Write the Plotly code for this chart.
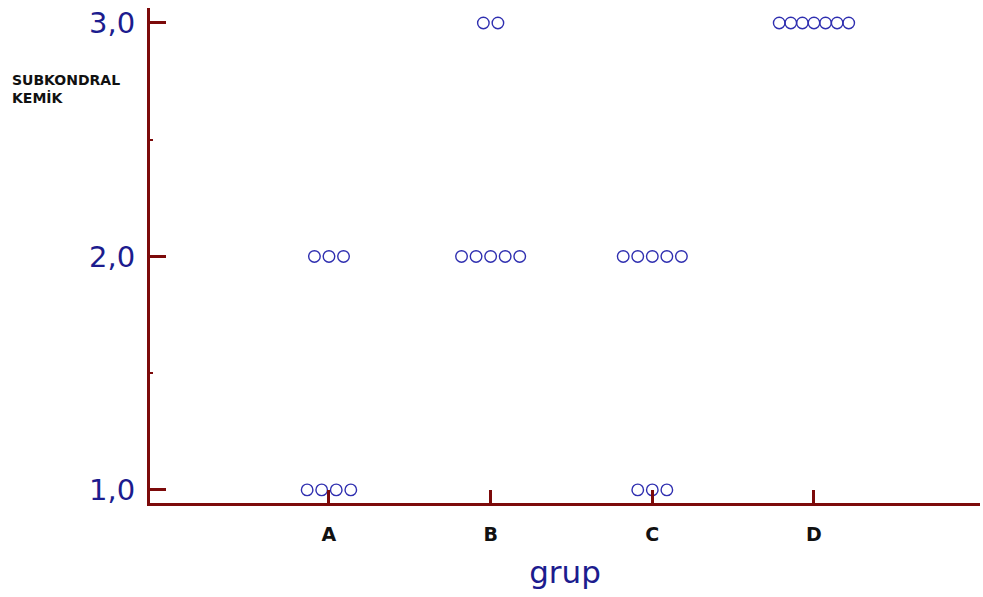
import plotly.graph_objects as go

# Scores per group (SUBKONDRAL KEMİK)
groups = ["A", "B", "C", "D"]
scores_A = [1, 1, 1, 1, 2, 2, 2]
scores_B = [2, 2, 2, 2, 2, 3, 3]
scores_C = [1, 1, 1, 2, 2, 2, 2, 2]
scores_D = [3, 3, 3, 3, 3, 3, 3]
y_ticks = [1.0, 2.0, 3.0]
y_tick_labels = ["1,0", "2,0", "3,0"]

axis_red = "#7c0a0a"
dot_blue = "#2f2fb0"
label_blue = "#1c1c8e"

xs, ys = [], []
for gi, vals in enumerate([scores_A, scores_B, scores_C, scores_D], start=1):
    for level in sorted(set(vals)):
        n = vals.count(level)
        step = min(0.09, 0.43 / (n - 1)) if n > 1 else 0
        for k in range(n):
            xs.append(gi + (k - (n - 1) / 2) * step)
            ys.append(level)

fig = go.Figure(go.Scatter(
    x=xs, y=ys, mode="markers",
    marker=dict(symbol="circle-open", size=11.5, color=dot_blue,
                line=dict(width=1.4, color=dot_blue)),
    cliponaxis=False, hoverinfo="skip",
))

fig.update_layout(
    width=983, height=597,
    margin=dict(l=150, r=3, t=8, b=94),
    paper_bgcolor="white", plot_bgcolor="white",
    showlegend=False,
    font=dict(family="DejaVu Sans"),
    annotations=[dict(
        text="<b>SUBKONDRAL<br>KEMİK</b>", xref="paper", yref="paper",
        x=-140 / 830, y=1 - 62 / 495, xanchor="left", yanchor="top",
        align="left", showarrow=False,
        font=dict(family="DejaVu Sans", size=14, color="#111111"),
    )],
)

fig.update_xaxes(
    range=[-0.107, 5.027], tickmode="array",
    tickvals=[1, 2, 3, 4], ticktext=groups,
    ticks="inside", ticklen=13, tickwidth=3, tickcolor=axis_red,
    showline=True, linecolor=axis_red, linewidth=3,
    showgrid=False, zeroline=False,
    tickfont=dict(family="DejaVu Sans", size=19, color="#111111", weight="bold"),
    ticklabelstandoff=12,
    title=dict(text="grup", font=dict(family="DejaVu Sans", size=31, color=label_blue),
               standoff=18),
)

fig.update_yaxes(
    range=[0.944, 3.064], tickmode="array",
    tickvals=y_ticks, ticktext=y_tick_labels,
    ticks="inside", ticklen=16, tickwidth=2.5, tickcolor=axis_red,
    minor=dict(tickvals=[1.5, 2.5], ticks="inside", ticklen=3, tickwidth=2, tickcolor=axis_red),
    showline=True, linecolor=axis_red, linewidth=3,
    showgrid=False, zeroline=False,
    tickfont=dict(family="DejaVu Sans", size=29, color=label_blue),
    ticklabelstandoff=6,
)

fig.write_html("out.html")
